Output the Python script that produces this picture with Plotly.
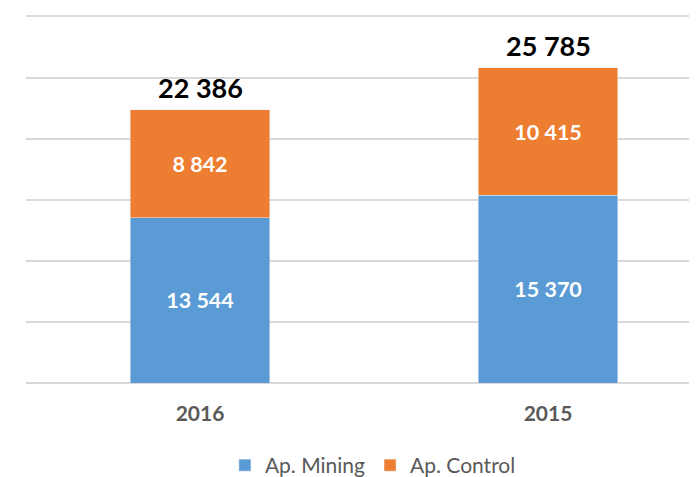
import plotly.graph_objects as go

categories = ["2016", "2015"]
mining = [13544, 15370]
control = [8842, 10415]
totals = [a + b for a, b in zip(mining, control)]

def fmt(v):
    return f"{v:,}".replace(",", " ")

FONT = "Lato"
fig = go.Figure()
fig.add_trace(go.Bar(
    x=categories, y=mining, name="Ap. Mining", marker_color="#5B9BD5",
    width=0.4, text=[fmt(v) for v in mining], textposition="inside",
    insidetextanchor="middle", textangle=0,
    textfont=dict(family=FONT, size=21.5, color="white", weight="bold"),
))
fig.add_trace(go.Bar(
    x=categories, y=control, name="Ap. Control", marker_color="#ED7D31",
    width=0.4, text=[fmt(v) for v in control], textposition="inside",
    insidetextanchor="middle", textangle=0,
    textfont=dict(family=FONT, size=21.5, color="white", weight="bold"),
))
for i, t in enumerate(totals):
    fig.add_annotation(x=i, y=t, text=fmt(t), showarrow=False,
                       xanchor="center", yanchor="bottom", yshift=4,
                       font=dict(family=FONT, size=27, color="black", weight="bold"))

fig.update_layout(
    width=689, height=469, barmode="stack",
    margin=dict(l=18, r=0, t=0, b=94, autoexpand=False),
    plot_bgcolor="white", paper_bgcolor="white",
    font=dict(family=FONT),
    xaxis=dict(type="category", range=[-0.5, 1.428], showgrid=False, showline=False,
               zeroline=False, automargin=False,
               tickfont=dict(family=FONT, size=21, color="#595959", weight="bold"),
               ticklabelstandoff=16),
    yaxis=dict(range=[0, 30694], dtick=5000, showticklabels=False, automargin=False,
               showgrid=True, gridcolor="#D9D9D9", gridwidth=1.5,
               zeroline=True, zerolinecolor="#D9D9D9", zerolinewidth=1.5),
    legend=dict(orientation="h", x=0.517, xanchor="center", y=-0.22, yanchor="middle",
                font=dict(family=FONT, size=21, color="#595959"),
                traceorder="normal", itemwidth=30),
)
fig.write_html("out.html")
